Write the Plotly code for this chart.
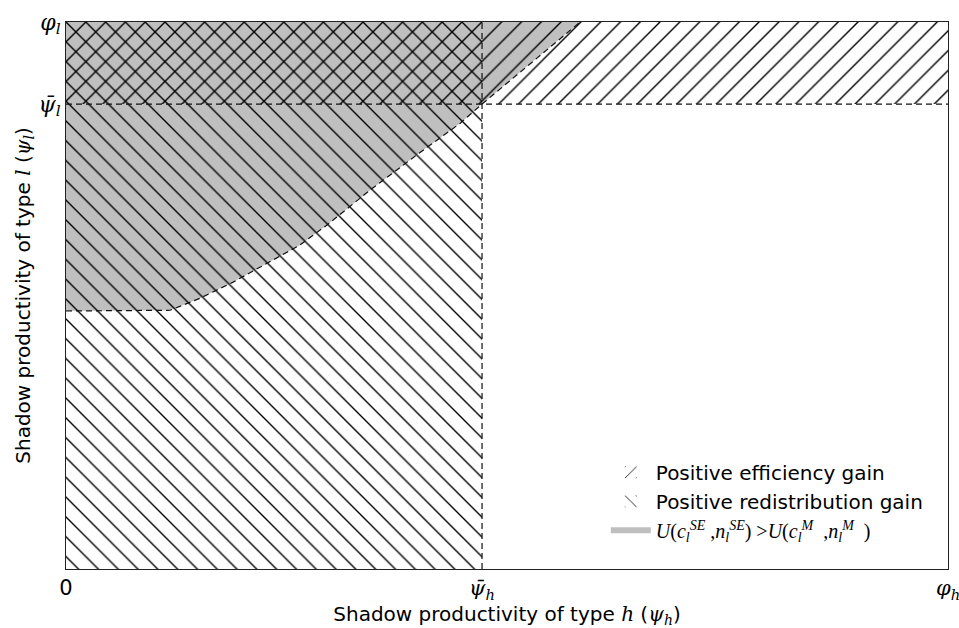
import plotly.graph_objects as go

# ---- data (axes normalised: 0..phi_h on x, 0..phi_l on y) ----
phi_h = 1.0
phi_l = 1.0
psi_h_bar = 0.4717
psi_l_bar = 0.85

# lower boundary of the region U(c_l^SE, n_l^SE) > U(c_l^M, n_l^M)
curve_x = [0.0, 0.118, 0.152, 0.189, 0.228, 0.265, 0.296, 0.345, 0.401, 0.447, 0.4717, 0.583]
curve_y = [0.4717, 0.473, 0.495, 0.524, 0.559, 0.592, 0.629, 0.693, 0.761, 0.815, 0.850, 1.0]

MATH = "DejaVu Serif"
x_tickvals = [0.0, psi_h_bar, phi_h]
x_ticktext = ['<span style="font-family:DejaVu Sans;font-style:normal;font-size:21px">0</span>',
              '<i>ψ̄<sub>h</sub></i>', '<i>φ<sub>h</sub></i>']
y_tickvals = [psi_l_bar, phi_l]
y_ticktext = ['<i>ψ̄<sub>l</sub></i>', '<i>φ<sub>l</sub></i>']

legend_names = [
    "Positive efficiency gain",
    "Positive redistribution gain",
    '<span style="font-family:Liberation Serif"><i>U</i>(<i>c<sub>l</sub><sup>SE</sup></i> ,<i>n<sub>l</sub><sup>SE</sup></i>) &gt;<i>U</i>(<i>c<sub>l</sub><sup>M</sup></i>  ,<i>n<sub>l</sub><sup>M</sup></i>  )</span>',
]

hatch_col = "#000000"

fig = go.Figure()

# efficiency gain hatch "/" : y in [psi_l_bar, phi_l], x in [0, phi_h]
fig.add_trace(go.Bar(x=[phi_h / 2], y=[phi_l - psi_l_bar], base=[psi_l_bar], width=[phi_h],
                     marker=dict(color="rgba(0,0,0,0)", line=dict(width=0), opacity=1,
                                 pattern=dict(shape="/", size=14, solidity=0.1, fgopacity=1,
                                              fgcolor=hatch_col, bgcolor="rgba(0,0,0,0)")),
                     name=legend_names[0], legendrank=1, hoverinfo="skip"))

# redistribution gain hatch "\" : x in [0, psi_h_bar], y in [0, phi_l]
fig.add_trace(go.Bar(x=[psi_h_bar / 2], y=[phi_l], base=[0], width=[psi_h_bar],
                     marker=dict(color="rgba(0,0,0,0)", line=dict(width=0), opacity=1,
                                 pattern=dict(shape="\\", size=14, solidity=0.1, fgopacity=1,
                                              fgcolor=hatch_col, bgcolor="rgba(0,0,0,0)")),
                     name=legend_names[1], legendrank=2, hoverinfo="skip"))

# gray region: above the curve (translucent black so the hatch shows through)
gx = list(curve_x) + [0.0]
gy = list(curve_y) + [phi_l]
fig.add_trace(go.Scatter(x=gx, y=gy, fill="toself", fillcolor="rgba(0,0,0,0.25)", mode="none",
                         name=legend_names[2], legendrank=3, hoverinfo="skip"))

dash = "6px,4px"
# curve boundary
fig.add_trace(go.Scatter(x=curve_x, y=curve_y, mode="lines",
                         line=dict(color="#111", width=1.2, dash=dash),
                         showlegend=False, hoverinfo="skip"))
# psi_h_bar vertical
fig.add_trace(go.Scatter(x=[psi_h_bar, psi_h_bar], y=[0, phi_l], mode="lines",
                         line=dict(color="#111", width=1.2, dash=dash),
                         showlegend=False, hoverinfo="skip"))
# psi_l_bar horizontal
fig.add_trace(go.Scatter(x=[0, phi_h], y=[psi_l_bar, psi_l_bar], mode="lines",
                         line=dict(color="#111", width=1.2, dash=dash),
                         showlegend=False, hoverinfo="skip"))

fig.update_layout(
    width=959, height=628,
    margin=dict(l=66, r=11, t=22, b=59),
    plot_bgcolor="white", paper_bgcolor="white",
    font=dict(family="DejaVu Sans", size=20, color="black"),
    barmode="overlay",
    showlegend=True,
    legend=dict(x=0.612, y=0.035, xanchor="left", yanchor="bottom",
                bgcolor="rgba(255,255,255,0)", borderwidth=0,
                font=dict(size=20, family="DejaVu Sans"), traceorder="normal",
                itemwidth=40),
    xaxis=dict(range=[0, phi_h], tickvals=x_tickvals, ticktext=x_ticktext,
               showgrid=False, zeroline=False, showline=True, mirror=True,
               linecolor="#222", linewidth=1, ticks="", automargin=False,
               ticklabeloverflow="allow",
               tickfont=dict(family=MATH, size=21),
               title=dict(text='Shadow productivity of type <span style="font-family:DejaVu Serif"><i>h</i></span> (<span style="font-family:DejaVu Serif"><i>ψ<sub>h</sub></i></span>)',
                          font=dict(size=20), standoff=10)),
    yaxis=dict(range=[0, phi_l], tickvals=y_tickvals, ticktext=y_ticktext,
               showgrid=False, zeroline=False, showline=True, mirror=True,
               linecolor="#222", linewidth=1, ticks="", automargin=False,
               ticklabeloverflow="allow",
               tickfont=dict(family=MATH, size=22),
               title=dict(text='Shadow productivity of type <span style="font-family:DejaVu Serif"><i>l</i></span> (<span style="font-family:DejaVu Serif"><i>ψ<sub>l</sub></i></span>)',
                          font=dict(size=20), standoff=2)),
)

# remove the browser's default 8px body margin so the figure fills the window exactly
fig.write_html("out.html", config={"displayModeBar": False},
               post_script="document.body.style.margin='0';")
